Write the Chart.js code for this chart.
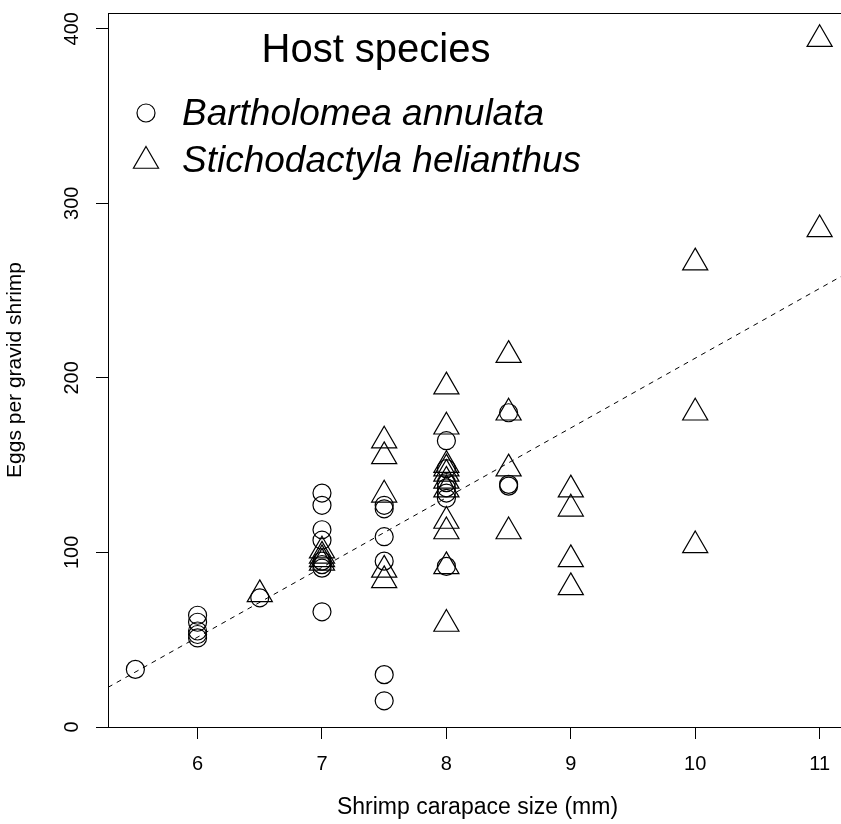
<!DOCTYPE html>
<html lang="en">
<head>
  <meta charset="UTF-8">
  <title>Eggs per gravid shrimp</title>
  <script src="https://cdn.jsdelivr.net/npm/chart.js"></script>
  <style>
    html, body { margin: 0; padding: 0; background: #fff; overflow: hidden; }
    canvas { display: block; }
  </style>
</head>
<body>
  <canvas id="eggChart" width="848" height="824"></canvas>
  <script>
    // Bartholomea annulata (circles)
    const bartX = [5.5, 6, 6, 6, 6, 6, 6.5, 7, 7, 7, 7, 7, 7, 7, 7,
                   7.5, 7.5, 7.5, 7.5, 7.5, 7.5, 8, 8, 8, 8, 8, 8, 8, 8.5, 8.5, 8.5];
    const bartY = [33, 64, 60, 55, 53, 51, 74, 134, 127, 113, 107, 95, 93, 91, 66,
                   127, 125, 109, 95, 30, 15, 164, 148, 140, 137, 134, 131, 92, 180, 139, 138];

    // Stichodactyla helianthus (triangles)
    const stichX = [6.5, 7, 7, 7, 7, 7.5, 7.5, 7.5, 7.5, 7.5,
                    8, 8, 8, 8, 8, 8, 8, 8, 8, 8, 8,
                    8.5, 8.5, 8.5, 8.5, 9, 9, 9, 9, 10, 10, 10, 11, 11];
    const stichY = [76, 101, 98, 96, 94, 164, 155, 133, 90, 84,
                    195, 172, 150, 148, 145, 141, 136, 118, 112, 92, 59,
                    213, 180, 148, 112, 136, 125, 96, 80, 266, 180, 104, 394, 285];

    // fitted line, read at the plot edges
    const fitX = [5.28, 11.22];
    const fitY = [22.7, 260];

    const xTickValues = [6, 7, 8, 9, 10, 11];
    const yTickValues = [0, 100, 200, 300, 400];

    const legendTitle = 'Host species';
    const legendNames = ['Bartholomea annulata', 'Stichodactyla helianthus'];

    const FONT = "'Liberation Sans', Arial, Helvetica, sans-serif";

    const toPoints = (xs, ys) => xs.map((x, i) => ({ x: x, y: ys[i] }));

    // box around the plot + legend in the top left corner
    const boxAndLegend = {
      id: 'boxAndLegend',
      afterDraw(chart) {
        const { ctx, chartArea } = chart;
        ctx.save();
        ctx.strokeStyle = '#000';
        ctx.lineWidth = 1;
        ctx.strokeRect(chartArea.left + 0.5, chartArea.top + 0.5,
          chartArea.right - chartArea.left, chartArea.bottom - chartArea.top);

        const lx = chartArea.left + 38;
        ctx.fillStyle = '#000';
        ctx.font = '40px ' + FONT;
        ctx.textAlign = 'center';
        ctx.textBaseline = 'alphabetic';
        ctx.fillText(legendTitle, chartArea.left + 268, chartArea.top + 49);

        // circle
        ctx.lineWidth = 1.2;
        ctx.beginPath();
        ctx.arc(lx, chartArea.top + 100, 9, 0, Math.PI * 2);
        ctx.stroke();
        // triangle
        const r = 14.5, ty = chartArea.top + 148;
        ctx.beginPath();
        ctx.moveTo(lx, ty - r);
        ctx.lineTo(lx + r * Math.sin(2 * Math.PI / 3), ty + r / 2);
        ctx.lineTo(lx - r * Math.sin(2 * Math.PI / 3), ty + r / 2);
        ctx.closePath();
        ctx.stroke();

        ctx.font = 'italic 37px ' + FONT;
        ctx.textAlign = 'left';
        ctx.fillText(legendNames[0], chartArea.left + 74, chartArea.top + 112);
        ctx.fillText(legendNames[1], chartArea.left + 74, chartArea.top + 159);
        ctx.restore();
      }
    };

    const ctx = document.getElementById('eggChart').getContext('2d');
    const eggChart = new Chart(ctx, {
      type: 'scatter',
      data: {
        datasets: [
          {
            label: legendNames[0],
            data: toPoints(bartX, bartY),
            pointStyle: 'circle',
            pointRadius: 9,
            borderColor: '#000',
            backgroundColor: 'rgba(0,0,0,0)',
            borderWidth: 1.2
          },
          {
            label: legendNames[1],
            data: toPoints(stichX, stichY),
            pointStyle: 'triangle',
            pointRadius: 14.5,
            borderColor: '#000',
            backgroundColor: 'rgba(0,0,0,0)',
            borderWidth: 1.2
          },
          {
            type: 'line',
            label: 'fit',
            data: toPoints(fitX, fitY),
            borderColor: '#000',
            borderWidth: 1,
            borderDash: [5, 5],
            pointRadius: 0,
            fill: false
          }
        ]
      },
      options: {
        responsive: false,
        animation: false,
        events: [],
        layout: { autoPadding: false, padding: { top: 13, right: 1, bottom: 0, left: 0 } },
        plugins: {
          legend: { display: false },
          tooltip: { enabled: false }
        },
        scales: {
          x: {
            type: 'linear',
            min: 5.28,
            max: 11.22,
            afterBuildTicks: (scale) => { scale.ticks = xTickValues.map(v => ({ value: v })); },
            afterFit: (scale) => {
              scale.height = 97;
              scale.paddingLeft = 0;
              scale.paddingRight = 0;
            },
            grid: { drawOnChartArea: false, drawTicks: true, tickLength: 12, color: '#000', tickWidth: 1 },
            border: { display: true, color: '#000', width: 1 },
            ticks: { color: '#000', font: { family: FONT, size: 20 }, padding: 13, maxRotation: 0 },
            title: {
              display: true,
              text: 'Shrimp carapace size (mm)',
              color: '#000',
              font: { family: FONT, size: 23 },
              padding: { top: 0, bottom: 3 }
            }
          },
          y: {
            type: 'linear',
            min: 0,
            max: 409,
            afterBuildTicks: (scale) => { scale.ticks = yTickValues.map(v => ({ value: v })); },
            afterFit: (scale) => {
              scale.width = 108;
              scale.paddingTop = 0;
              scale.paddingBottom = 0;
            },
            grid: { drawOnChartArea: false, drawTicks: true, tickLength: 12, color: '#000', tickWidth: 1 },
            border: { display: true, color: '#000', width: 1 },
            ticks: {
              color: '#000',
              font: { family: FONT, size: 20 },
              padding: 7,
              minRotation: 90,
              maxRotation: 90,
              crossAlign: 'center'
            },
            title: {
              display: true,
              text: 'Eggs per gravid shrimp',
              color: '#000',
              font: { family: FONT, size: 21 },
              padding: { top: 3, bottom: 0 }
            }
          }
        }
      },
      plugins: [boxAndLegend]
    });
  </script>
</body>
</html>
